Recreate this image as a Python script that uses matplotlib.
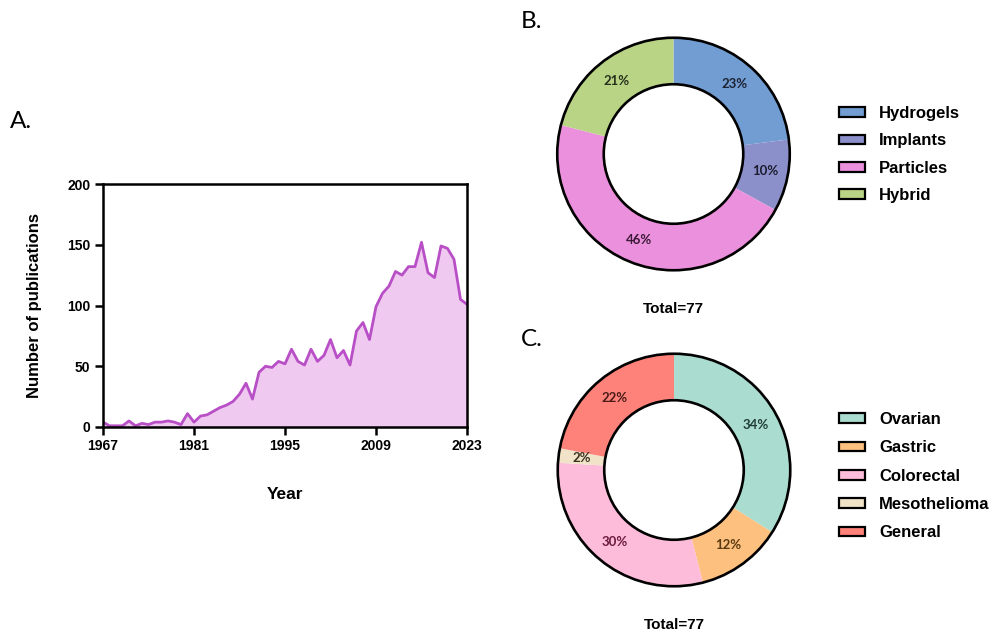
import matplotlib
matplotlib.use('Agg')
import matplotlib.pyplot as plt
from matplotlib.patches import Circle, Patch

plt.rcParams['font.family'] = ['Liberation Sans', 'DejaVu Sans']

# publications per year, 1967..2023
years = list(range(1967, 2024))
pubs = [4, 1, 1, 1, 5, 1, 3, 2, 4, 4,
        5, 4, 2, 11, 4, 9, 10, 13, 16, 18,
        21, 27, 36, 23, 45, 50, 49, 54, 52, 64,
        54, 51, 64, 54, 59, 72, 57, 63, 51, 79,
        86, 72, 99, 110, 116, 128, 125, 132, 132, 152,
        127, 123, 149, 147, 138, 105, 101]
year_ticks = [1967, 1981, 1995, 2009, 2023]

# panel B
mat_labels = ['Hydrogels', 'Implants', 'Particles', 'Hybrid']
mat_pct = [23, 10, 46, 21]
mat_colors = ['#729dd3', '#8b90cb', '#eb90dc', '#bad486']
mat_text = ['#1c2233', '#1c1c2e', '#3a1a36', '#26301a']

# panel C
can_labels = ['Ovarian', 'Gastric', 'Colorectal', 'Mesothelioma', 'General']
can_pct = [34, 12, 30, 2, 22]
can_colors = ['#abdcd0', '#fdc07f', '#fdbcd9', '#f1e3c7', '#fe827a']
can_text = ['#1f3d35', '#5a3a10', '#6b1a3e', '#3a3020', '#4a1a16']

fig = plt.figure(figsize=(9.95, 6.32), dpi=100)

# ---- A: line / area chart
ax = fig.add_axes([103 / 995, 1 - 427 / 632, 364 / 995, 243 / 632])
ax.fill_between(years, pubs, 0, color='#efc9f0', lw=0)
ax.plot(years, pubs, color='#b84fc6', lw=2.0)
ax.set_xlim(1967, 2023)
ax.set_ylim(0, 200)
ax.set_xticks(year_ticks)
ax.set_yticks([0, 50, 100, 150, 200])
for s in ax.spines.values():
    s.set_linewidth(1.8)
ax.tick_params(width=1.8, length=6, labelsize=10, pad=3)
for lab in ax.get_xticklabels() + ax.get_yticklabels():
    lab.set_fontweight('bold')
ax.set_ylabel('Number of publications', fontsize=12, fontweight='bold', labelpad=18)
ax.set_xlabel('Year', fontsize=12.5, fontweight='bold', labelpad=24)
fig.text(10 / 995, 1 - 122 / 632, 'A.', fontsize=17.5, family='Lato', va='center')


def donut(cx, cy, pct, colors, tcolors, labels, legend_y, spacing, total_y, letter, letter_y):
    r = 118
    a = fig.add_axes([(cx - r) / 995, 1 - (cy + r) / 632, 2 * r / 995, 2 * r / 632])
    wedges, _, autos = a.pie(pct, colors=colors, startangle=90, counterclock=False,
                             radius=1, wedgeprops=dict(width=0.4, lw=0),
                             autopct='%d%%', pctdistance=0.8)
    for t, c in zip(autos, tcolors):
        t.set_color(c)
        t.set_fontsize(9.5)
        t.set_fontweight('bold')
        t.set_family('Lato')
    a.add_patch(Circle((0, 0), 1.0, fill=False, ec='black', lw=1.9))
    a.add_patch(Circle((0, 0), 0.6, fill=False, ec='black', lw=1.9))
    a.set_xlim(-1.015, 1.015)
    a.set_ylim(-1.015, 1.015)
    a.set_aspect('equal')
    a.axis('off')
    handles = [Patch(facecolor=c, edgecolor='black', lw=1.6) for c in colors]
    fig.legend(handles, labels, loc='upper left', frameon=False,
               bbox_to_anchor=(824 / 995, 1 - legend_y / 632),
               prop=dict(weight='bold', size=12), handlelength=1.55, handleheight=0.5,
               handletextpad=0.85, labelspacing=spacing)
    fig.text(cx / 995, 1 - total_y / 632, 'Total=77', ha='center', va='center',
             fontsize=11, fontweight='bold')
    fig.text(521 / 995, 1 - letter_y / 632, letter, fontsize=17.5, family='Lato', va='center')


donut(673.5, 154, mat_pct, mat_colors, mat_text, mat_labels, 91, 0.74, 309, 'B.', 22)
donut(674, 470, can_pct, can_colors, can_text, can_labels, 397, 0.8, 625, 'C.', 340)

fig.savefig('out.png', dpi=100)
